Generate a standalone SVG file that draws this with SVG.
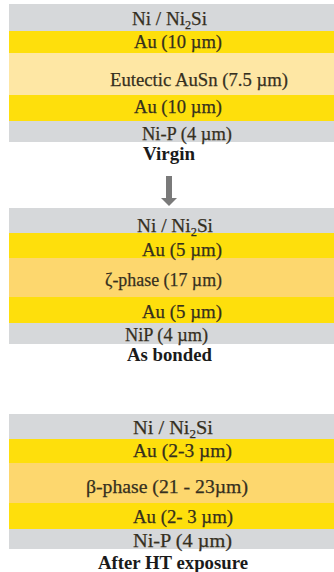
<svg xmlns="http://www.w3.org/2000/svg" width="334" height="572" viewBox="0 0 334 572">
<style>
.gray{fill:#d6d8da}
.au{fill:#fedf0c}
.eut{fill:#fee7a4}
.ph{fill:#fdd76e}
text{font-family:"Liberation Serif","Times New Roman",serif;font-size:19.5px;fill:#352f1e;stroke:#352f1e;stroke-width:0.25}
.lab{font-weight:bold;fill:#1a1a1a;stroke:none;font-size:18.5px}
.sub{font-size:12.5px}
.arrow{fill:#7a7a7a}
</style>
<rect width="334" height="572" fill="#ffffff"/>

<g id="virgin">
<rect class="gray" x="9" y="4" width="325" height="27"/>
<rect class="au" x="9" y="31" width="325" height="22"/>
<rect class="eut" x="9" y="53" width="325" height="42"/>
<rect class="au" x="9" y="95" width="325" height="26"/>
<rect class="gray" x="9" y="121" width="325" height="21"/>
<text x="132" y="25" textLength="75" lengthAdjust="spacingAndGlyphs">Ni / Ni<tspan class="sub" dy="4">2</tspan><tspan dy="-4">Si</tspan></text>
<text x="134" y="48" textLength="88" lengthAdjust="spacingAndGlyphs">Au (10 µm)</text>
<text x="110" y="86" textLength="178" lengthAdjust="spacingAndGlyphs">Eutectic AuSn (7.5 µm)</text>
<text x="134" y="113" textLength="88" lengthAdjust="spacingAndGlyphs">Au (10 µm)</text>
<text x="142" y="140" textLength="90" lengthAdjust="spacingAndGlyphs">Ni-P (4 µm)</text>
<text class="lab" x="143" y="160" textLength="52" lengthAdjust="spacingAndGlyphs">Virgin</text>
</g>

<g id="connectors">
<path class="arrow" d="M166,176 H172 V198 H177 L169,206 L161,198 H166 Z"/>
</g>

<g id="as-bonded">
<rect class="gray" x="9" y="208" width="325" height="25"/>
<rect class="au" x="9" y="233" width="325" height="25"/>
<rect class="ph" x="9" y="258" width="325" height="39"/>
<rect class="au" x="9" y="297" width="325" height="26"/>
<rect class="gray" x="9" y="323" width="325" height="21"/>
<text x="137" y="232" textLength="76" lengthAdjust="spacingAndGlyphs">Ni / Ni<tspan class="sub" dy="4">2</tspan><tspan dy="-4">Si</tspan></text>
<text x="142" y="256" textLength="80" lengthAdjust="spacingAndGlyphs">Au (5 µm)</text>
<text x="105" y="286" textLength="117" lengthAdjust="spacingAndGlyphs">ζ-phase (17 µm)</text>
<text x="142" y="318" textLength="80" lengthAdjust="spacingAndGlyphs">Au (5 µm)</text>
<text x="125" y="341" textLength="83" lengthAdjust="spacingAndGlyphs">NiP (4 µm)</text>
<text class="lab" x="127" y="361" textLength="85" lengthAdjust="spacingAndGlyphs">As bonded</text>
</g>

<g id="after-ht">
<rect class="gray" x="9" y="414" width="325" height="25"/>
<rect class="au" x="9" y="439" width="325" height="24"/>
<rect class="ph" x="9" y="463" width="325" height="40"/>
<rect class="au" x="9" y="503" width="325" height="26"/>
<rect class="gray" x="9" y="529" width="325" height="20"/>
<text x="133" y="434" textLength="80" lengthAdjust="spacingAndGlyphs">Ni / Ni<tspan class="sub" dy="4">2</tspan><tspan dy="-4">Si</tspan></text>
<text x="133" y="457" textLength="99" lengthAdjust="spacingAndGlyphs">Au (2-3 µm)</text>
<text x="86" y="493" textLength="162" lengthAdjust="spacingAndGlyphs">β-phase (21 - 23µm)</text>
<text x="133" y="523" textLength="100" lengthAdjust="spacingAndGlyphs">Au (2- 3 µm)</text>
<text x="133" y="547" textLength="99" lengthAdjust="spacingAndGlyphs">Ni-P (4 µm)</text>
<text class="lab" x="98" y="569" textLength="150" lengthAdjust="spacingAndGlyphs">After HT exposure</text>
</g>
</svg>
